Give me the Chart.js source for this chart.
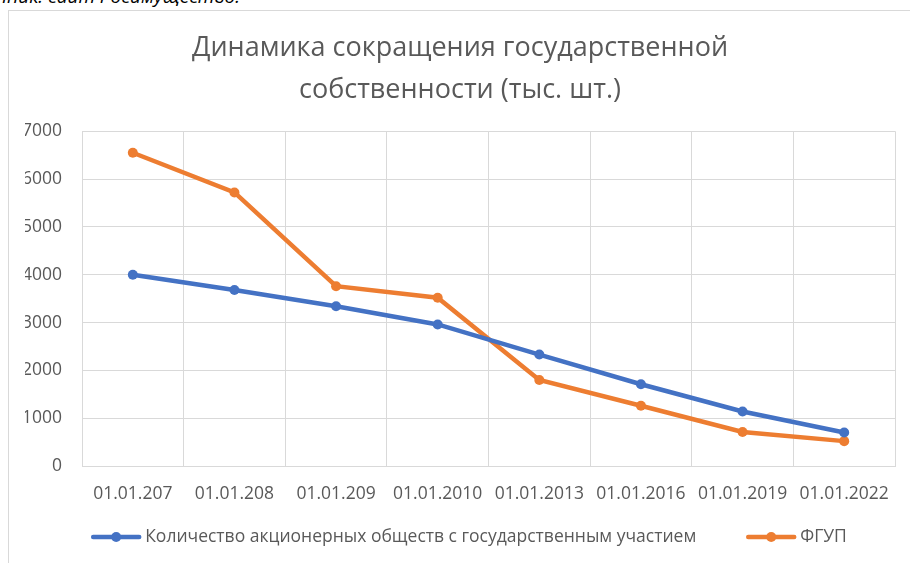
<!DOCTYPE html>
<html lang="ru">
<head>
<meta charset="utf-8">
<script src="https://cdn.jsdelivr.net/npm/chart.js@4.4.1/dist/chart.umd.min.js"></script>
<style>
    html, body { margin: 0; padding: 0; background: #fff; overflow: hidden; width: 910px; height: 563px; }
    #source {
        position: absolute; left: -160px; top: -14px; width: 400px;
        text-align: right; font: italic 19px "Open Sans", sans-serif; color: #000;
        line-height: 20px; white-space: nowrap;
    }
    #box {
        position: absolute; left: 8px; top: 10px; width: 910px; height: 560px;
        border-left: 1px solid #d9d9d9; border-top: 1px solid #d9d9d9;
    }
    #chart { display: block; }
</style>
</head>
<body>
<div id="source">Источник: сайт Росимущество.</div>
<div id="box"><canvas id="chart" width="902" height="552"></canvas></div>
<script>
// ── Данные ─────────────────────────────────────────────────────────────
const DATES = ["01.01.207", "01.01.208", "01.01.209", "01.01.2010",
               "01.01.2013", "01.01.2016", "01.01.2019", "01.01.2022"];
const AO    = [4000, 3680, 3340, 2960, 2330, 1710, 1140, 700];
const FGUP  = [6550, 5720, 3760, 3520, 1800, 1260, 710, 520];

const LABEL_AO   = "Количество акционерных обществ с государственным участием";
const LABEL_FGUP = "ФГУП";
const TITLE = ["Динамика сокращения государственной", "собственности (тыс. шт.)"];

const BLUE   = "#4472c4";
const ORANGE = "#ed7d31";
const GRID   = "#d9d9d9";
const TEXT   = "#595959";
const FONT   = "'Open Sans', sans-serif";

// Легенда в стиле Excel: линия с маркером, большой промежуток между пунктами
const excelLegend = {
    id: "excelLegend",
    afterDraw(chart) {
        const ctx = chart.ctx;
        const y = 526, lineLen = 50, gapText = 4, gapItem = 50;
        ctx.save();
        ctx.font = "17.5px " + FONT;
        const items = chart.data.datasets.map(ds => ({
            text: ds.label, color: ds.borderColor,
            w: lineLen + gapText + ctx.measureText(ds.label).width
        }));
        const total = items.reduce((s, it) => s + it.w, 0) + gapItem * (items.length - 1);
        let x = 460 - total / 2;
        for (const it of items) {
            ctx.strokeStyle = it.color;
            ctx.lineWidth = 4.5;
            ctx.lineCap = "round";
            ctx.beginPath();
            ctx.moveTo(x + 2, y);
            ctx.lineTo(x + lineLen - 2, y);
            ctx.stroke();
            ctx.fillStyle = it.color;
            ctx.beginPath();
            ctx.arc(x + lineLen / 2, y, 5, 0, Math.PI * 2);
            ctx.fill();
            ctx.fillStyle = TEXT;
            ctx.textBaseline = "middle";
            ctx.fillText(it.text, x + lineLen + gapText, y);
            x += it.w + gapItem;
        }
        ctx.restore();
    }
};

function serie(label, data, color) {
    return {
        label, data,
        borderColor: color,
        backgroundColor: color,
        borderWidth: 4.5,
        pointRadius: 5,
        pointBorderWidth: 0,
        pointHoverRadius: 5,
        tension: 0
    };
}

new Chart(document.getElementById("chart"), {
    type: "line",
    data: {
        labels: DATES,
        datasets: [
            serie(LABEL_AO, AO, BLUE),
            serie(LABEL_FGUP, FGUP, ORANGE)
        ]
    },
    options: {
        responsive: false,
        animation: false,
        layout: { padding: { left: 16, right: 16, top: 0, bottom: 0 } },
        plugins: {
            legend: { display: false },
            tooltip: { enabled: false },
            title: {
                display: true,
                text: TITLE,
                color: TEXT,
                font: { family: FONT, size: 27, weight: "normal", lineHeight: 1.56 },
                padding: { top: 16, bottom: 20 }
            }
        },
        scales: {
            x: {
                offset: true,
                grid: { offset: true, color: GRID, drawTicks: false },
                border: { color: GRID },
                ticks: { color: TEXT, padding: 18, maxRotation: 0, font: { family: FONT, size: 17.5 } },
                afterFit(scale) { scale.height = 97; }
            },
            y: {
                min: 0, max: 7000,
                ticks: {
                    stepSize: 1000, color: TEXT, padding: 20,
                    font: { family: FONT, size: 17.5 },
                    callback: v => String(v)
                },
                grid: { color: GRID, drawTicks: false },
                border: { display: false },
                afterFit(scale) { scale.width = 57; }
            }
        }
    },
    plugins: [excelLegend]
});
</script>
</body>
</html>
